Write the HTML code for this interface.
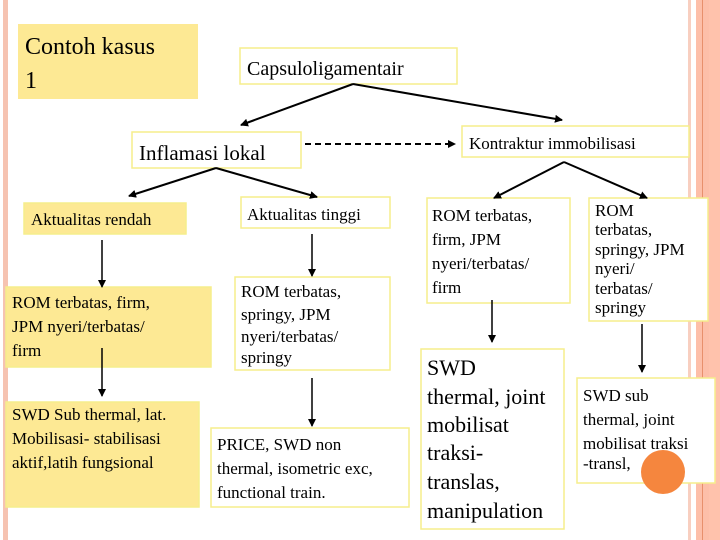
<!DOCTYPE html>
<html><head><meta charset="utf-8"><style>
html,body{margin:0;padding:0;background:#fff;}
svg{display:block;}
text{font-family:"Liberation Serif",serif;fill:#000;}
</style></head><body>
<svg width="720" height="540" viewBox="0 0 720 540" xmlns="http://www.w3.org/2000/svg">
<defs><marker id="a" markerWidth="8" markerHeight="8" refX="7" refY="4" orient="auto" markerUnits="userSpaceOnUse"><path d="M0,0 L8,4 L0,8 z" fill="#000"/></marker></defs>
<rect x="0" y="0" width="720" height="540" fill="#fff"/>
<rect x="3" y="0" width="5" height="540" fill="#f6c3b1"/>
<rect x="688" y="0" width="3" height="540" fill="#f8cfc0"/>
<rect x="696" y="0" width="24" height="540" fill="#fdbfa9"/>
<rect x="702" y="0" width="1" height="540" fill="#e8906c"/>
<rect x="709" y="0" width="11" height="540" fill="#ffc2ac"/>

<g stroke="#f5ee8c" stroke-width="1.5">
<rect x="18" y="24" width="180" height="75" fill="#fde994" stroke="none"/>
<rect x="240" y="48" width="217" height="36" fill="#fff"/>
<rect x="132" y="132" width="169" height="36" fill="#fff"/>
<rect x="462" y="126" width="227" height="31" fill="#fff"/>
<rect x="24" y="203" width="162" height="31" fill="#fde994"/>
<rect x="241" y="197" width="149" height="31" fill="#fff"/>
<rect x="6" y="287" width="205" height="80" fill="#fde994"/>
<rect x="6" y="402" width="193" height="105" fill="#fde994"/>
<rect x="235" y="277" width="155" height="93" fill="#fff"/>
<rect x="211" y="428" width="198" height="79" fill="#fff"/>
<rect x="427" y="198" width="143" height="105" fill="#fff"/>
<rect x="421" y="349" width="143" height="180" fill="#fff"/>
<rect x="589" y="198" width="119" height="123" fill="#fff"/>
<rect x="577" y="378" width="138" height="105" fill="#fff"/>
</g>
<circle cx="663" cy="472" r="22" fill="#f5863e"/>

<g stroke="#000" stroke-width="2" marker-end="url(#a)">
<line x1="353" y1="84" x2="241" y2="125"/>
<line x1="353" y1="84" x2="562" y2="120"/>
<line x1="216" y1="168" x2="129" y2="196"/>
<line x1="216" y1="168" x2="317" y2="197"/>
<line x1="564" y1="162" x2="494" y2="198"/>
<line x1="564" y1="162" x2="647" y2="198"/>
<line x1="305" y1="144" x2="455" y2="144" stroke-dasharray="6,4"/>
</g>
<g stroke="#000" stroke-width="1.5" marker-end="url(#a)">
<line x1="102" y1="240" x2="102" y2="287"/>
<line x1="102" y1="348" x2="102" y2="396"/>
<line x1="312" y1="234" x2="312" y2="276"/>
<line x1="312" y1="378" x2="312" y2="426"/>
<line x1="492" y1="300" x2="492" y2="342"/>
<line x1="642" y1="324" x2="642" y2="372"/>
</g>

<text x="25" y="54" font-size="24">Contoh kasus</text>
<text x="25" y="88" font-size="24">1</text>
<text x="247" y="75" font-size="20">Capsuloligamentair</text>
<text x="139" y="160" font-size="21">Inflamasi lokal</text>
<text x="469" y="149" font-size="17">Kontraktur immobilisasi</text>
<text x="31" y="225" font-size="17">Aktualitas rendah</text>
<text x="247" y="220" font-size="17">Aktualitas tinggi</text>
<g font-size="17">
<text x="12" y="308">ROM terbatas, firm,</text>
<text x="12" y="332">JPM nyeri/terbatas/</text>
<text x="12" y="356">firm</text>
<text x="12" y="420">SWD Sub thermal, lat.</text>
<text x="12" y="444">Mobilisasi- stabilisasi</text>
<text x="12" y="468">aktif,latih fungsional</text>
<text x="241" y="297">ROM terbatas,</text>
<text x="241" y="320">springy, JPM</text>
<text x="241" y="342">nyeri/terbatas/</text>
<text x="241" y="363">springy</text>
<text x="217" y="450">PRICE, SWD non</text>
<text x="217" y="474">thermal, isometric exc,</text>
<text x="217" y="498">functional train.</text>
<text x="432" y="221">ROM terbatas,</text>
<text x="432" y="245">firm, JPM</text>
<text x="432" y="269">nyeri/terbatas/</text>
<text x="432" y="293">firm</text>
<text x="595" y="216">ROM</text>
<text x="595" y="235">terbatas,</text>
<text x="595" y="255">springy, JPM</text>
<text x="595" y="274">nyeri/</text>
<text x="595" y="294">terbatas/</text>
<text x="595" y="313">springy</text>
<text x="583" y="401">SWD sub</text>
<text x="583" y="425">thermal, joint</text>
<text x="583" y="449">mobilisat traksi</text>
<text x="583" y="469">-transl,</text>
</g>
<g font-size="22">
<text x="427" y="375">SWD</text>
<text x="427" y="404">thermal, joint</text>
<text x="427" y="432">mobilisat</text>
<text x="427" y="460">traksi-</text>
<text x="427" y="489">translas,</text>
<text x="427" y="518">manipulation</text>
</g>
</svg>
</body></html>
